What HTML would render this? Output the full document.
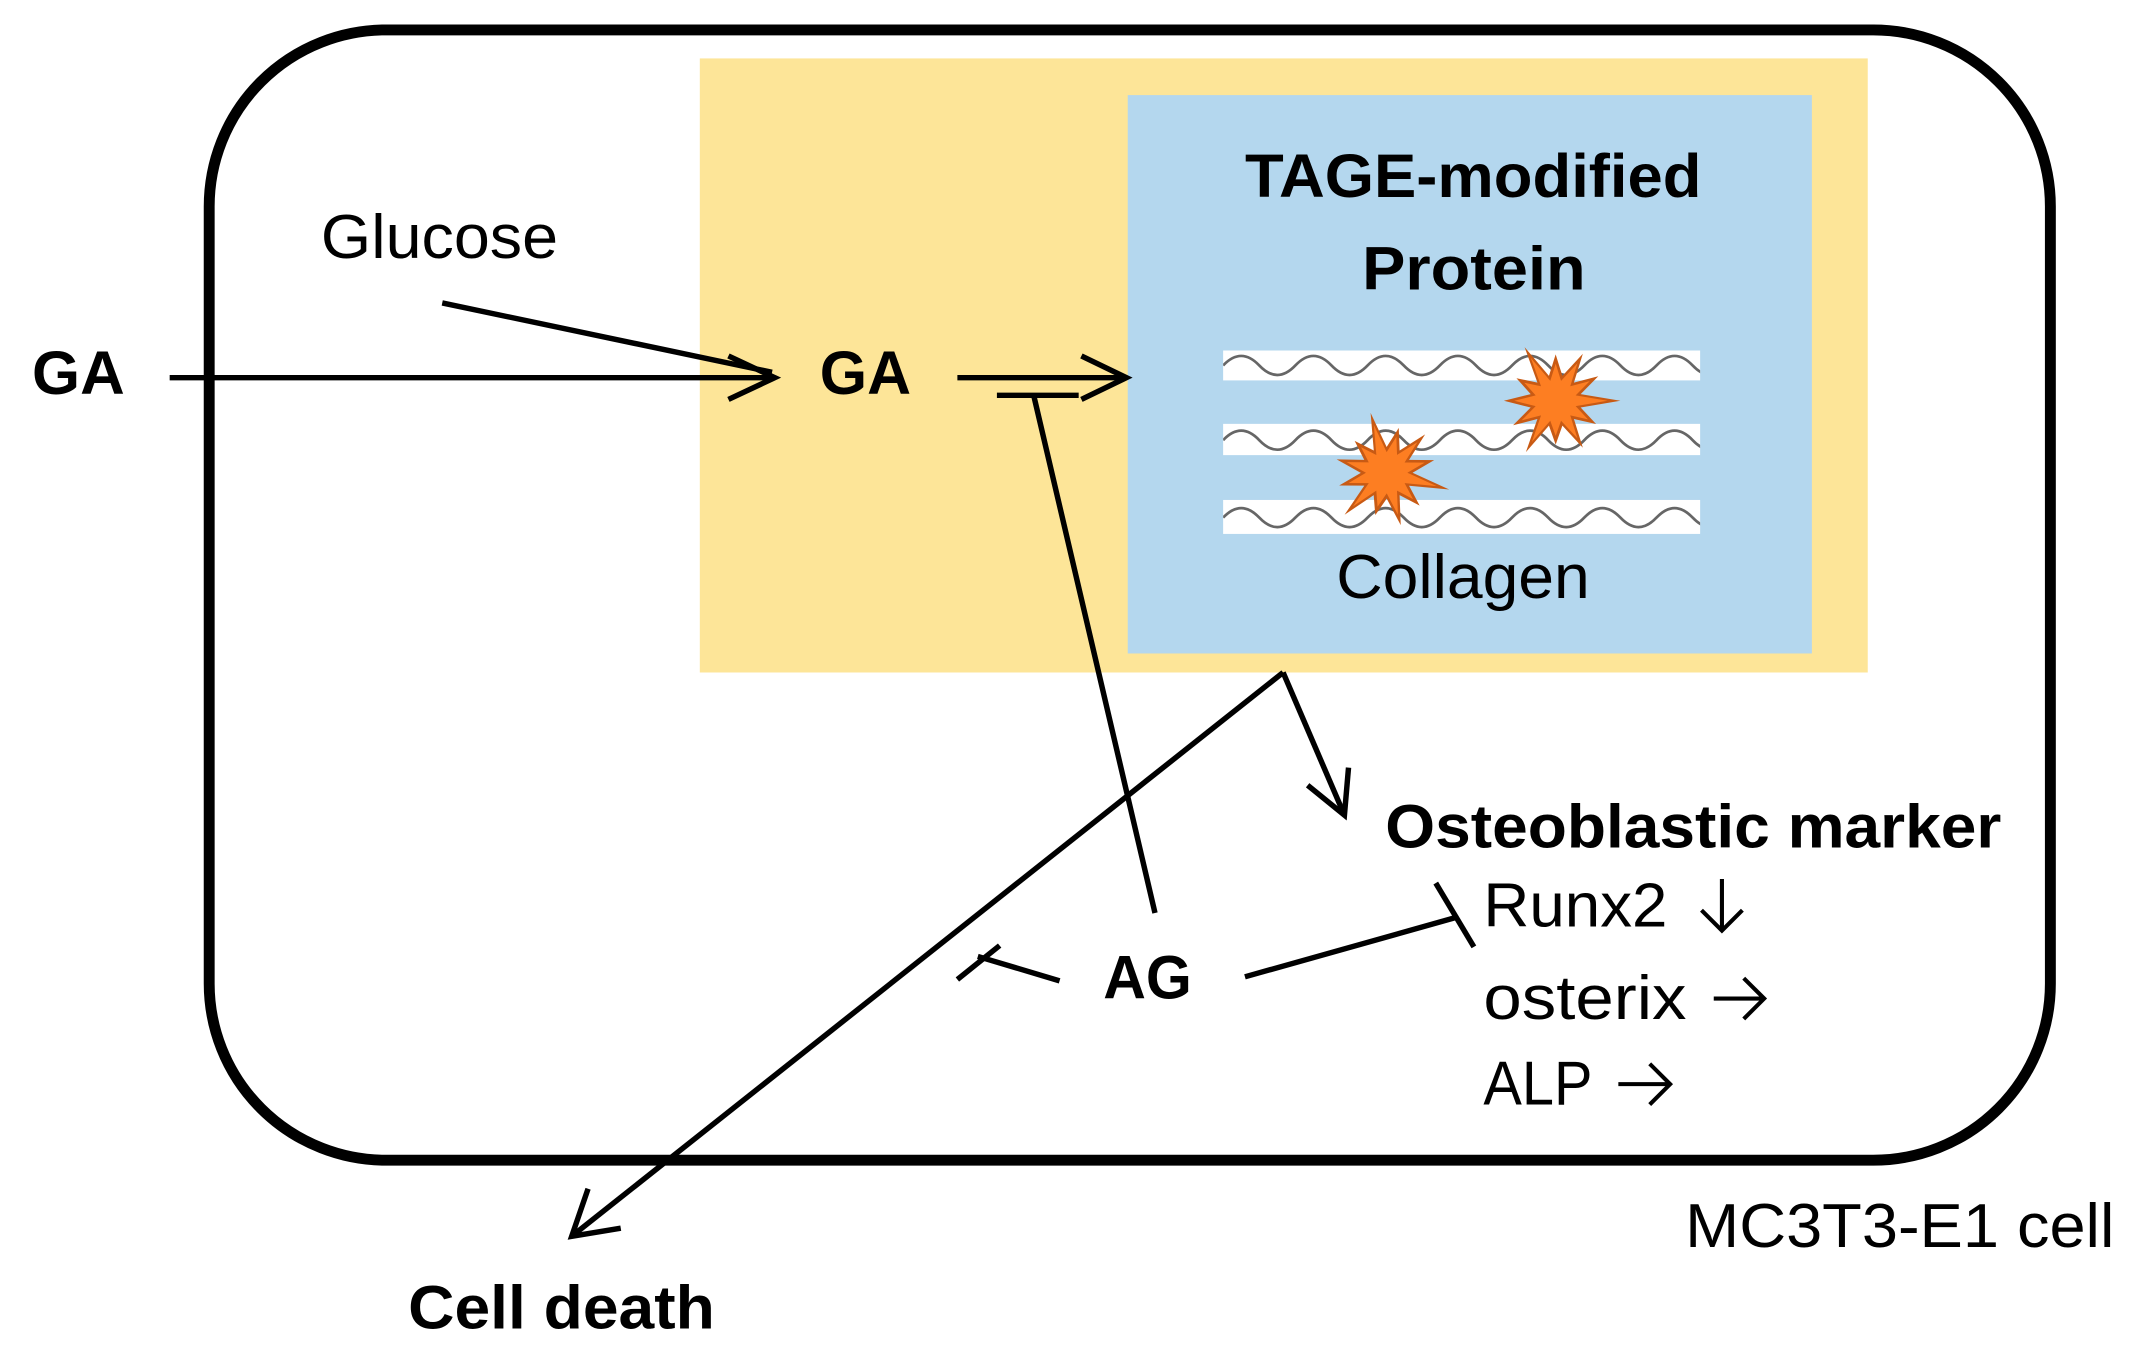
<!DOCTYPE html>
<html><head><meta charset="utf-8"><style>
html,body{margin:0;padding:0;background:#fff;}
svg{display:block;}
text{font-family:"Liberation Sans",sans-serif;fill:#000;}
</style></head><body>
<svg width="2141" height="1364" viewBox="-1.5 0 1571 1004" preserveAspectRatio="none" xmlns="http://www.w3.org/2000/svg">
<defs>
<polygon id="st" points="50,0 19.3,5.2 31.2,18 14.1,14.1 21,36.4 5.2,19.3 0,34 -5.2,19.3 -23,39.8 -14.1,14.1 -32.9,19 -19.3,5.2 -40,0 -19.3,-5.2 -30.3,-17.5 -14.1,-14.1 -24,-41.6 -5.2,-19.3 0,-36 5.2,-19.3 21,-36.4 14.1,-14.1 32.9,-19 19.3,-5.2"/>
<path id="wv" d="M0,0 q13.25,-14 26.5,0 t26.5,0 t26.5,0 t26.5,0 t26.5,0 t26.5,0 t26.5,0 t26.5,0 t26.5,0 t26.5,0 t26.5,0 t26.5,0 t26.5,0 t26.5,0 t26.5,0 t26.5,0 t26.5,0 t26.5,0 t26.5,0 t26.5,0 t26.5,0 t26.5,0 t26.5,0 t26.5,0 t26.5,0 t26.5,0" fill="none" stroke="#666" stroke-width="2"/>
<clipPath id="c1"><rect x="896" y="0" width="350" height="1004"/></clipPath>
</defs>
<rect x="152" y="22" width="1351" height="832" rx="130" ry="130" fill="none" stroke="#000" stroke-width="8"/>
<rect x="512" y="43" width="857" height="452" fill="#fde598"/>
<rect x="826" y="70" width="502" height="411" fill="#b4d7ee"/>
<rect x="896" y="258" width="350" height="22" fill="#fff"/>
<rect x="896" y="312" width="350" height="23" fill="#fff"/>
<rect x="896" y="368" width="350" height="25" fill="#fff"/>
<g clip-path="url(#c1)">
<use href="#wv" x="896" y="269"/>
<use href="#wv" x="896" y="324"/>
<use href="#wv" x="896" y="381"/>
</g>
<g transform="translate(1140,295) scale(0.95)"><use href="#st" fill="#c85a14"/><use href="#st" fill="#fd7e22" transform="scale(0.8)"/></g>
<g transform="translate(1016,348) rotate(15) scale(0.95)"><use href="#st" fill="#c85a14"/><use href="#st" fill="#fd7e22" transform="scale(0.8)"/></g>

<text x="912" y="145" font-size="45" font-weight="bold" textLength="335" lengthAdjust="spacingAndGlyphs">TAGE-modified</text>
<text x="998" y="213" font-size="45" font-weight="bold" textLength="164" lengthAdjust="spacingAndGlyphs">Protein</text>
<text x="979" y="440" font-size="46" textLength="186" lengthAdjust="spacingAndGlyphs">Collagen</text>
<text x="234" y="190" font-size="46" textLength="174" lengthAdjust="spacingAndGlyphs">Glucose</text>
<text x="22" y="290" font-size="45" font-weight="bold" textLength="68" lengthAdjust="spacingAndGlyphs">GA</text>
<text x="600" y="290" font-size="45" font-weight="bold" textLength="67" lengthAdjust="spacingAndGlyphs">GA</text>
<text x="808" y="735" font-size="45" font-weight="bold" textLength="65" lengthAdjust="spacingAndGlyphs">AG</text>
<text x="1015" y="624" font-size="45" font-weight="bold" textLength="452" lengthAdjust="spacingAndGlyphs">Osteoblastic marker</text>
<text x="1087" y="682" font-size="46" textLength="135" lengthAdjust="spacingAndGlyphs">Runx2</text>
<text x="1087" y="750" font-size="46" textLength="149" lengthAdjust="spacingAndGlyphs">osterix</text>
<text x="1087" y="813" font-size="46" textLength="80" lengthAdjust="spacingAndGlyphs">ALP</text>
<text x="1235" y="918" font-size="46" textLength="315" lengthAdjust="spacingAndGlyphs">MC3T3-E1 cell</text>
<text x="298" y="978" font-size="45" font-weight="bold" textLength="225" lengthAdjust="spacingAndGlyphs">Cell death</text>

<g stroke="#000" stroke-width="3" fill="none">
<line x1="1262" y1="647" x2="1262" y2="685"/>
<polyline points="1247,670 1262,685 1277,670"/>
<line x1="1256" y1="735" x2="1293" y2="735"/>
<polyline points="1278,720 1293,735 1278,750"/>
<line x1="1186" y1="798" x2="1224" y2="798"/>
<polyline points="1209,783 1224,798 1209,813"/>
</g>
<g stroke="#000" stroke-width="4" fill="none">
<line x1="123" y1="278" x2="567" y2="278"/>
<polyline points="533,262 567,278 533,294"/>
<line x1="323" y1="223" x2="565" y2="274"/>
<line x1="701" y1="278" x2="825" y2="278"/>
<polyline points="792,262 825,278 792,294"/>
<line x1="730" y1="291" x2="790" y2="291"/>
<line x1="757" y1="291" x2="846" y2="672"/>
<line x1="940" y1="495" x2="985" y2="600"/>
<polyline points="958,578 985,600 988,565"/>
<line x1="940" y1="495" x2="418" y2="910"/>
<polyline points="430,875 418,910 454,904"/>
<line x1="776" y1="722" x2="716" y2="704"/>
<line x1="701" y1="721" x2="732" y2="696"/>
<line x1="912" y1="719" x2="1068" y2="675"/>
<line x1="1052" y1="650" x2="1080" y2="697"/>
</g>
</svg>
</body></html>
